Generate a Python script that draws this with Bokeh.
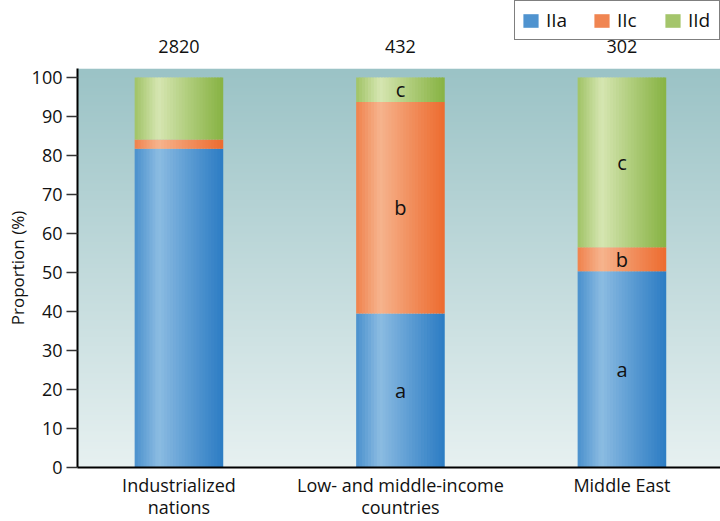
import numpy as np
from bokeh.plotting import figure
from bokeh.layouts import column
from bokeh.models import (Range1d, FixedTicker, Legend, LegendItem, ColumnDataSource)
from bokeh.core.properties import value
from bokeh.embed import file_html
from bokeh.resources import INLINE

# ---------------- data ----------------
categories = ["Industrialized\nnations", "Low- and middle-income\ncountries", "Middle East"]
totals = ["2820", "432", "302"]
series = ["IIa", "IIc", "IId"]
iia = [81.7, 39.5, 50.3]
iic = [2.4, 54.2, 6.2]
iid = [15.9, 6.3, 43.5]
seg_labels = [["", "", ""], ["a", "b", "c"], ["a", "b", "c"]]
y_ticks = [0, 10, 20, 30, 40, 50, 60, 70, 80, 90, 100]

FONT = "Open Sans"
BW = 0.40
XR = (-0.458, 2.445)
YR = (0, 102.3)
TOP_H = 56          # height of the header strip (legend + sample sizes)

p = figure(width=720, height=521 - TOP_H, output_backend="svg", toolbar_location=None,
           x_range=Range1d(*XR), y_range=Range1d(*YR),
           min_border_left=77, min_border_right=0, min_border_top=68 - TOP_H,
           min_border_bottom=54)
p.outline_line_color = None
p.grid.visible = False
p.background_fill_color = "white"
p.border_fill_color = "white"

# background vertical gradient
H = 256
top_c = np.array([155, 195, 198], float)
bot_c = np.array([231, 241, 241], float)
img = np.zeros((H, 1, 4), dtype=np.uint8)
for r in range(H):
    f = r / (H - 1)  # 0 bottom -> 1 top
    c = bot_c + (top_c - bot_c) * f
    img[r, 0, :3] = c.astype(np.uint8)
    img[r, 0, 3] = 255
p.image_rgba(image=[img.view(np.uint32).reshape(H, 1)], x=XR[0], y=YR[0],
             dw=XR[1] - XR[0], dh=YR[1] - YR[0])

# gradient bars
palettes = {
    "IIa": ((45, 125, 196), (140, 188, 226)),
    "IIc": ((237, 108, 48), (246, 180, 142)),
    "IId": ((136, 179, 68), (214, 230, 178)),
}
N = 30
HL = 0.27

def weight(u):
    if u < HL:
        return 0.3 + 0.7 * (u / HL)
    return (1 - (u - HL) / (1 - HL)) ** 1.1

def hexc(c):
    return "#%02x%02x%02x" % tuple(int(round(v)) for v in c)

sources = {}
bottoms = [0.0, 0.0, 0.0]
for name, vals in zip(series, [iia, iic, iid]):
    dark, hi = palettes[name]
    dark = np.array(dark, float); hi = np.array(hi, float)
    L, R, B, T, C = [], [], [], [], []
    for i, v in enumerate(vals):
        for k in range(N):
            u0, u1 = k / N, (k + 1) / N
            w = weight((u0 + u1) / 2)
            L.append(i - BW / 2 + u0 * BW)
            R.append(i - BW / 2 + min(u1 + 0.4 / N, 1.0) * BW)
            B.append(bottoms[i]); T.append(bottoms[i] + v)
            C.append(hexc(dark + (hi - dark) * w))
    src = ColumnDataSource(dict(left=L, right=R, bottom=B, top=T, color=C))
    sources[name] = src
    p.quad(left="left", right="right", bottom="bottom", top="top",
           fill_color="color", line_color=None, source=src)
    bottoms = [b + v for b, v in zip(bottoms, vals)]

# segment labels
lx, ly, lt = [], [], []
cum = [0.0, 0.0, 0.0]
for j, vals in enumerate([iia, iic, iid]):
    for i, v in enumerate(vals):
        if seg_labels[i][j]:
            lx.append(i); ly.append(cum[i] + v / 2); lt.append(seg_labels[i][j])
        cum[i] += v
p.text(x=lx, y=ly, text=lt, text_font=value(FONT), text_font_size="20px",
       text_color="#111111", text_align="center", text_baseline="middle")

# axes
xa = p.xaxis[0]
xa.ticker = FixedTicker(ticks=[0, 1, 2])
xa.major_label_overrides = {i: c for i, c in enumerate(categories)}
xa.major_tick_line_color = None
xa.major_tick_out = 0
xa.major_tick_in = 0
xa.minor_tick_line_color = None
xa.axis_line_width = 2
xa.axis_line_color = "black"
xa.major_label_text_font = FONT
xa.major_label_text_font_size = "18px"
xa.major_label_text_line_height = 0.92
xa.major_label_text_color = "#111111"
xa.major_label_standoff = 5

ya = p.yaxis[0]
ya.ticker = FixedTicker(ticks=y_ticks)
ya.axis_label = "Proportion (%)"
ya.axis_label_text_font = FONT
ya.axis_label_text_font_size = "17px"
ya.axis_label_text_font_style = "normal"
ya.axis_label_text_color = "#111111"
ya.axis_label_standoff = 0
ya.major_label_text_font = FONT
ya.major_label_text_font_size = "18px"
ya.major_label_text_color = "#111111"
ya.major_label_standoff = 4
ya.major_tick_out = 11
ya.major_tick_in = 0
ya.major_tick_line_width = 1.5
ya.major_tick_line_color = "#333333"
ya.minor_tick_line_color = None
ya.axis_line_width = 2
ya.axis_line_color = "black"

# ---------------- header strip: legend + sample sizes ----------------
hd = figure(width=720, height=TOP_H, output_backend="svg", toolbar_location=None,
            x_range=p.x_range, y_range=Range1d(0, TOP_H),
            x_axis_location=None, y_axis_location=None,
            min_border_left=77, min_border_right=0, min_border_top=0,
            min_border_bottom=0)
hd.extra_y_ranges = {"offscreen": Range1d(1000, 1001)}
hd.outline_line_color = None
hd.grid.visible = False
hd.background_fill_color = "white"
hd.border_fill_color = "white"

# sample sizes above each bar
hd.text(x=[0, 1, 2], y=[10, 10, 10], text=totals, text_font=value(FONT),
        text_font_size="18px", text_color="#111111", text_align="center",
        text_baseline="middle")

items = []
for name in series:
    r = hd.quad(left="left", right="right", bottom="bottom", top="top",
                fill_color="color", line_color=None, source=sources[name],
                y_range_name="offscreen")
    items.append(LegendItem(label=name, renderers=[r], index=int(0.7 * N)))
legend = Legend(items=items, orientation="horizontal", location="top_right",
                label_text_font=FONT, label_text_font_size="19px",
                label_text_color="#111111", glyph_width=19, glyph_height=17,
                label_standoff=6, label_width=25, spacing=21, padding=6, margin=0,
                border_line_color="black", border_line_width=1.2,
                background_fill_color="white", background_fill_alpha=1.0)
hd.add_layout(legend, "center")

layout = column(hd, p, spacing=0)
open("out.html", "w").write(file_html(layout, INLINE))
